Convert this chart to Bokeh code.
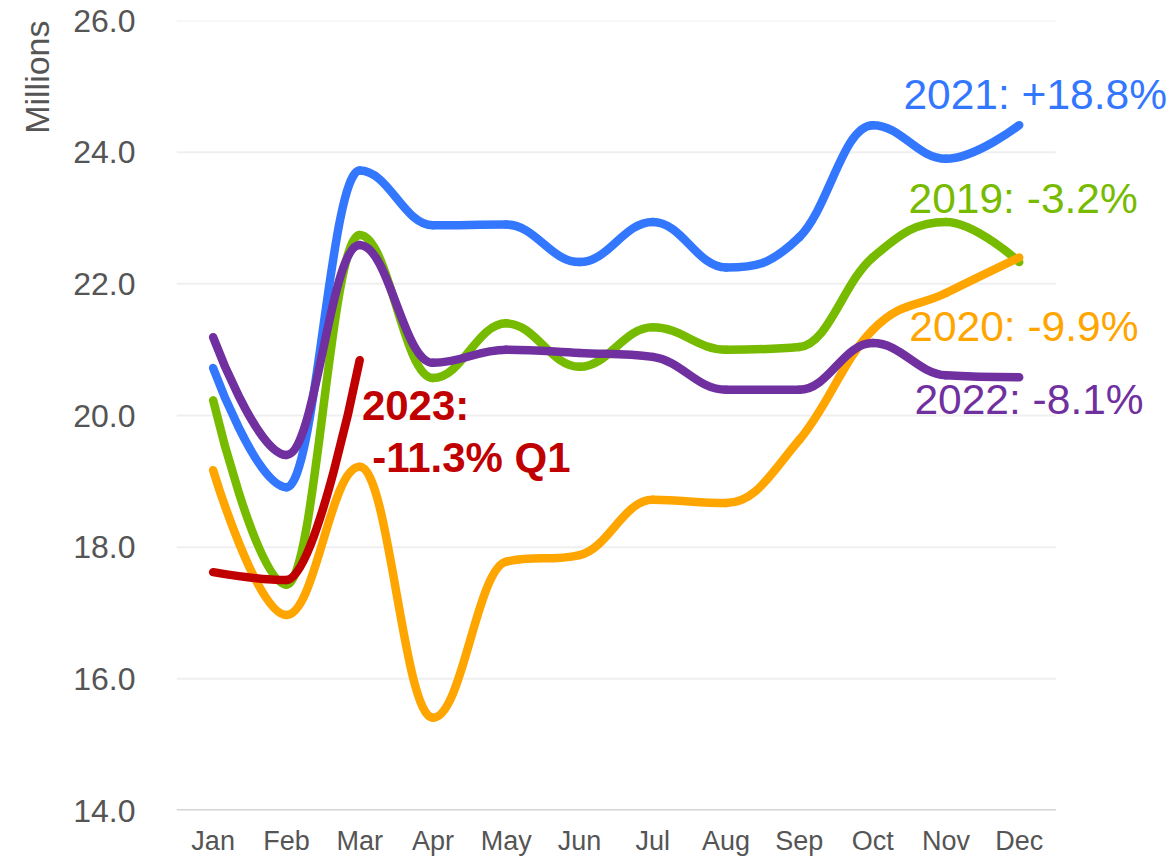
import math
from bokeh.plotting import figure
from bokeh.models import Range1d, FixedTicker, PrintfTickFormatter, Label, Title
from bokeh.embed import file_html
from bokeh.resources import INLINE

months = ["Jan", "Feb", "Mar", "Apr", "May", "Jun", "Jul", "Aug", "Sep", "Oct", "Nov", "Dec"]
y_ticks = [14, 16, 18, 20, 22, 24, 26]

v2019 = [20.23, 17.43, 22.74, 20.57, 21.40, 20.74, 21.34, 21.00, 21.04, 22.40, 22.94, 22.33]
v2020 = [19.17, 16.97, 19.22, 15.41, 17.78, 17.88, 18.72, 18.67, 19.63, 21.30, 21.86, 22.40]
v2021 = [20.72, 18.91, 23.72, 22.89, 22.90, 22.33, 22.94, 22.25, 22.71, 24.41, 23.90, 24.41]
v2022 = [21.19, 19.40, 22.59, 20.80, 21.00, 20.95, 20.89, 20.39, 20.39, 21.10, 20.61, 20.58]
v2023 = [17.62, 17.50, 20.84]

labels = ["2019: -3.2%", "2020: -9.9%", "2021: +18.8%", "2022: -8.1%"]
label_2023 = ["2023:", "-11.3% Q1"]
y_title = "Millions"

C2019 = "#77BB00"
C2020 = "#FFA500"
C2021 = "#3377FF"
C2022 = "#7030A0"
C2023 = "#C00000"
GRAY = "#555555"
FONT = "Liberation Sans"


def spline_segments(vals, smoothing=1.5):
    n = len(vals)
    xs = list(range(n))
    lc = [None] * n
    rc = [None] * n
    denom = smoothing + 1
    for i in range(1, n - 1):
        px, py = xs[i], vals[i]
        lx, ly = xs[i - 1], vals[i - 1]
        nx, ny = xs[i + 1], vals[i + 1]
        lcx = (smoothing * px + lx) / denom
        lcy = (smoothing * py + ly) / denom
        rcx = (smoothing * px + nx) / denom
        rcy = (smoothing * py + ny) / denom
        corr = ((rcy - lcy) * (rcx - px)) / (rcx - lcx) + py - rcy
        lcy += corr
        rcy += corr
        if lcy > ly and lcy > py:
            lcy = max(ly, py); rcy = 2 * py - lcy
        elif lcy < ly and lcy < py:
            lcy = min(ly, py); rcy = 2 * py - lcy
        if rcy > ny and rcy > py:
            rcy = max(ny, py); lcy = 2 * py - rcy
        elif rcy < ny and rcy < py:
            rcy = min(ny, py); lcy = 2 * py - rcy
        lc[i] = (lcx, lcy)
        rc[i] = (rcx, rcy)
    seg = dict(x0=[], y0=[], x1=[], y1=[], cx0=[], cy0=[], cx1=[], cy1=[])
    for i in range(1, n):
        x0, y0 = xs[i - 1], vals[i - 1]
        x1, y1 = xs[i], vals[i]
        c0 = rc[i - 1] if rc[i - 1] else (x0, y0)
        c1 = lc[i] if lc[i] else (x1, y1)
        seg["x0"].append(x0); seg["y0"].append(y0)
        seg["x1"].append(x1); seg["y1"].append(y1)
        seg["cx0"].append(c0[0]); seg["cy0"].append(c0[1])
        seg["cx1"].append(c1[0]); seg["cy1"].append(c1[1])
    return seg


# frame: 173..1173 px wide (73.5 px per month), 20..811 px tall
x_lo = -0.5
x_hi = -0.5 + 1000 / 73.5
p = figure(width=1173, height=858, output_backend="svg", toolbar_location=None,
           x_range=Range1d(x_lo, x_hi), y_range=Range1d(14, 26),
           min_border_left=173, min_border_right=0, min_border_top=20, min_border_bottom=47)
p.outline_line_color = None
p.background_fill_color = "white"
p.border_fill_color = "white"

# axes
p.xaxis.ticker = FixedTicker(ticks=list(range(len(months))))
p.xaxis.major_label_overrides = {i: m for i, m in enumerate(months)}
p.xaxis.major_tick_line_color = None
p.xaxis.minor_tick_line_color = None
p.xaxis.axis_line_color = None
p.xaxis.major_label_text_font = FONT
p.xaxis.major_label_text_font_size = "27px"
p.xaxis.major_label_text_color = GRAY
p.xaxis.major_label_standoff = 9

ax = p.yaxis[0]
ax.ticker = FixedTicker(ticks=y_ticks)
ax.formatter = PrintfTickFormatter(format="%.1f")
ax.axis_line_color = None
ax.major_tick_line_color = None
ax.minor_tick_line_color = None
ax.major_label_text_font = FONT
ax.major_label_text_font_size = "32px"
ax.major_label_text_color = GRAY
ax.major_label_standoff = 35

ttl = Title(text=y_title, align="right", text_font=FONT, text_font_size="34px",
            text_font_style="normal", text_color=GRAY)
if "standoff" in ttl.properties():
    ttl.standoff = 30
p.add_layout(ttl, "left")

p.xgrid.visible = False
p.ygrid.visible = False

# gridlines limited to the month area
grid_y = y_ticks[1:]
p.segment(x0=[x_lo] * len(grid_y), x1=[len(months) - 0.5] * len(grid_y), y0=grid_y, y1=grid_y,
          line_color="#efefef", line_width=2)
p.segment(x0=[x_lo], x1=[len(months) - 0.5], y0=[y_ticks[0]], y1=[y_ticks[0]],
          line_color="#d6d6d6", line_width=3)

for vals, col in [(v2019, C2019), (v2020, C2020), (v2021, C2021), (v2022, C2022), (v2023, C2023)]:
    s = spline_segments(vals)
    p.bezier(x0=s["x0"], y0=s["y0"], x1=s["x1"], y1=s["y1"],
             cx0=s["cx0"], cy0=s["cy0"], cx1=s["cx1"], cy1=s["cy1"],
             line_color=col, line_width=8.5, line_cap="round")

series_labels = [
    (labels[2], C2021, 9.42, 24.88),
    (labels[0], C2019, 9.49, 23.30),
    (labels[1], C2020, 9.50, 21.35),
    (labels[3], C2022, 9.57, 20.24),
]
for txt, col, lx, ly in series_labels:
    p.add_layout(Label(x=lx, y=ly, text=txt, text_align="left", text_baseline="alphabetic",
                       text_font=FONT, text_font_size="42.5px", text_color=col))

p.add_layout(Label(x=2.03, y=20.15, text=label_2023[0], text_align="left", text_baseline="alphabetic",
                   text_font=FONT, text_font_size="42px", text_font_style="bold", text_color=C2023))
p.add_layout(Label(x=2.17, y=19.36, text=label_2023[1], text_align="left", text_baseline="alphabetic",
                   text_font=FONT, text_font_size="42px", text_font_style="bold", text_color=C2023))

open("out.html", "w").write(file_html(p, INLINE))
